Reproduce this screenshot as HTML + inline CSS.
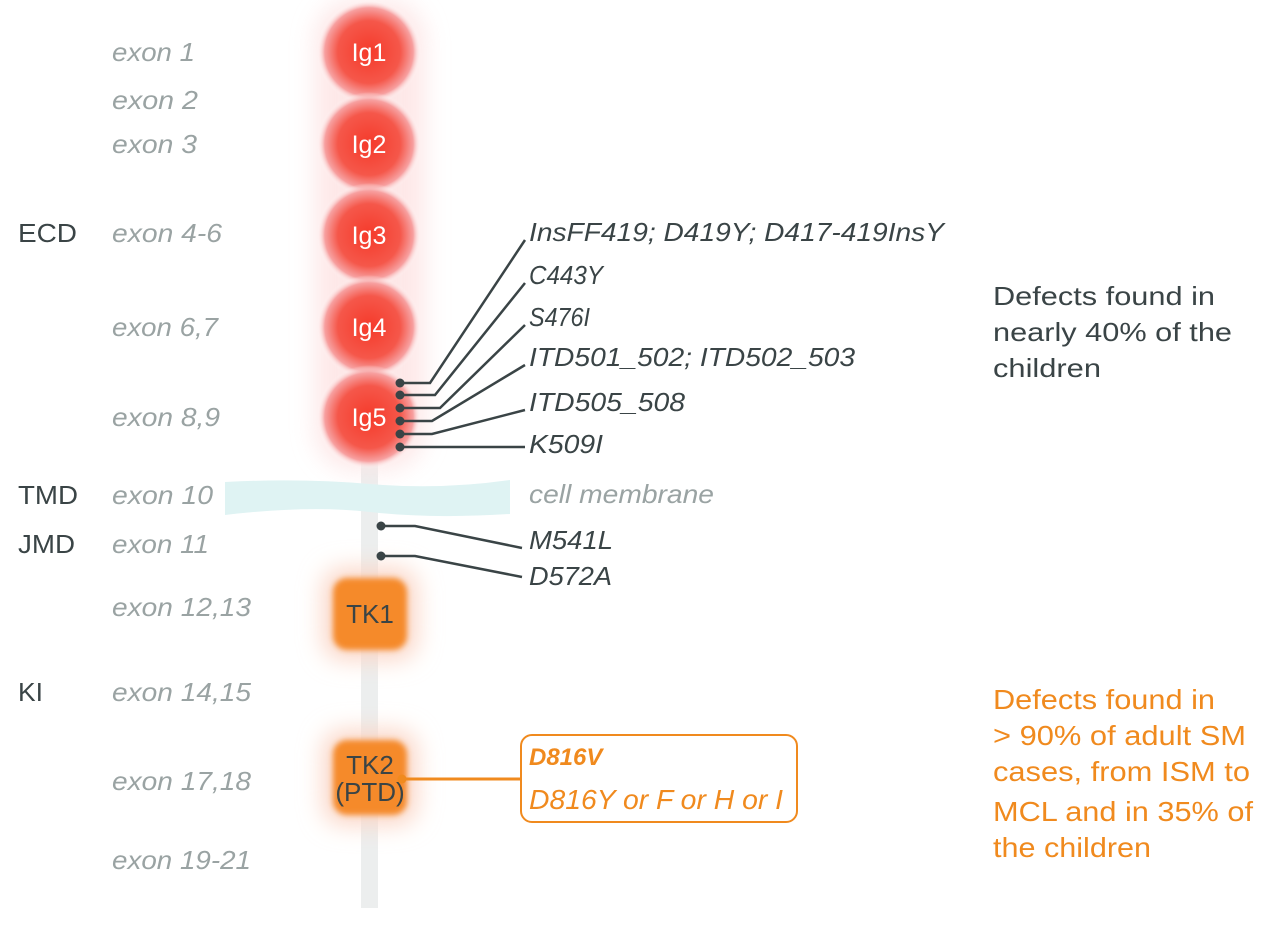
<!DOCTYPE html>
<html><head><meta charset="utf-8"><style>
body{margin:0;background:#fff}
svg{display:block;font-family:"Liberation Sans",sans-serif}
.ex{fill:#9aa3a3;font-style:italic;font-size:26px}
.lb{fill:#3a4446;font-size:26px}
.m{fill:#3a4446;font-style:italic;font-size:26px}
.o{fill:#f08a1e;font-size:28px}
</style></head><body>
<svg width="1280" height="938" viewBox="0 0 1280 938">
<defs>
<radialGradient id="rg" cx="50%" cy="50%" r="50%">
<stop offset="0" stop-color="#f53a2a"/><stop offset="0.6" stop-color="#f5574a"/><stop offset="0.85" stop-color="#f7a0a0"/><stop offset="1" stop-color="#fff" stop-opacity="0"/>
</radialGradient>
<filter id="bl" x="-50%" y="-50%" width="200%" height="200%"><feGaussianBlur stdDeviation="12"/></filter>
<filter id="b2"><feGaussianBlur stdDeviation="3"/></filter>
</defs>
<rect x="361" y="440" width="17" height="468" fill="#eceeee"/>
<rect x="315" y="0" width="110" height="470" rx="40" fill="#fde2e2" filter="url(#bl)" opacity="0.8"/>
<g>
<circle cx="369" cy="52" r="52" fill="url(#rg)"/>
<circle cx="369" cy="144" r="52" fill="url(#rg)"/>
<circle cx="369" cy="235" r="52" fill="url(#rg)"/>
<circle cx="369" cy="327" r="52" fill="url(#rg)"/>
<circle cx="369" cy="417" r="52" fill="url(#rg)"/>
</g>
<g fill="#fff" font-size="25" text-anchor="middle">
<text x="369" y="61">Ig1</text><text x="369" y="153">Ig2</text><text x="369" y="244">Ig3</text><text x="369" y="336">Ig4</text><text x="369" y="426">Ig5</text>
</g>
<path d="M225 482 Q300 478 370 484 T510 480 L510 514 Q430 519 370 512 T225 515 Z" fill="#dff3f3"/>
<rect x="323" y="568" width="94" height="92" rx="20" fill="#fbd6c6" filter="url(#bl)"/>
<rect x="333" y="578" width="74" height="72" rx="14" fill="#f58a2a" filter="url(#b2)"/>
<rect x="323" y="730" width="94" height="95" rx="20" fill="#fbd6c6" filter="url(#bl)"/>
<rect x="333" y="740" width="74" height="75" rx="14" fill="#f58a2a" filter="url(#b2)"/>
<text x="370" y="623" text-anchor="middle" class="lb" font-size="25">TK1</text>
<text x="370" y="774" text-anchor="middle" class="lb" font-size="25">TK2</text>
<text x="370" y="801" text-anchor="middle" class="lb" font-size="19">(PTD)</text>
<g stroke="#3a4446" stroke-width="2.5" fill="none">
<path d="M400 383H430L525 240"/><path d="M400 395H435L525 283"/><path d="M400 408H440L525 325"/>
<path d="M400 421H432L525 365"/><path d="M400 434H432L525 410"/><path d="M400 447H525"/>
<path d="M381 526H415L522 548"/><path d="M381 556H415L522 577"/>
</g>
<g fill="#3a4446"><circle cx="400" cy="383" r="4.5"/><circle cx="400" cy="395" r="4.5"/><circle cx="400" cy="408" r="4.5"/><circle cx="400" cy="421" r="4.5"/><circle cx="400" cy="434" r="4.5"/><circle cx="400" cy="447" r="4.5"/><circle cx="381" cy="526" r="4.5"/><circle cx="381" cy="556" r="4.5"/></g>
<path d="M402 779H521" stroke="#f08a1e" stroke-width="3"/><circle cx="402" cy="779" r="4.5" fill="#f08a1e"/>
<rect x="521" y="735" width="276" height="87" rx="11" fill="#fff" stroke="#f08a1e" stroke-width="2"/>
<text x="529" y="765" fill="#f08a1e" font-weight="bold" font-style="italic" font-size="24">D816V</text>
<text x="529" y="809" class="o" font-style="italic" font-size="26" textLength="254" lengthAdjust="spacingAndGlyphs">D816Y or F or H or I</text>
<text x="112" y="61" class="ex" textLength="83" lengthAdjust="spacingAndGlyphs">exon 1</text>
<text x="112" y="109" class="ex" textLength="86" lengthAdjust="spacingAndGlyphs">exon 2</text>
<text x="112" y="153" class="ex" textLength="85" lengthAdjust="spacingAndGlyphs">exon 3</text>
<text x="112" y="242" class="ex" textLength="110" lengthAdjust="spacingAndGlyphs">exon 4-6</text>
<text x="112" y="336" class="ex" textLength="106" lengthAdjust="spacingAndGlyphs">exon 6,7</text>
<text x="112" y="426" class="ex" textLength="108" lengthAdjust="spacingAndGlyphs">exon 8,9</text>
<text x="112" y="504" class="ex" textLength="101" lengthAdjust="spacingAndGlyphs">exon 10</text>
<text x="112" y="553" class="ex" textLength="97" lengthAdjust="spacingAndGlyphs">exon 11</text>
<text x="112" y="616" class="ex" textLength="139" lengthAdjust="spacingAndGlyphs">exon 12,13</text>
<text x="112" y="701" class="ex" textLength="139" lengthAdjust="spacingAndGlyphs">exon 14,15</text>
<text x="112" y="790" class="ex" textLength="139" lengthAdjust="spacingAndGlyphs">exon 17,18</text>
<text x="112" y="869" class="ex" textLength="139" lengthAdjust="spacingAndGlyphs">exon 19-21</text>
<text x="529" y="503" class="ex" textLength="185" lengthAdjust="spacingAndGlyphs">cell membrane</text>
<text x="18" y="242" class="lb" textLength="59" lengthAdjust="spacingAndGlyphs">ECD</text>
<text x="18" y="504" class="lb" textLength="60" lengthAdjust="spacingAndGlyphs">TMD</text>
<text x="18" y="553" class="lb" textLength="57" lengthAdjust="spacingAndGlyphs">JMD</text>
<text x="18" y="701" class="lb" textLength="25" lengthAdjust="spacingAndGlyphs">KI</text>
<text x="529" y="241" class="m" textLength="415" lengthAdjust="spacingAndGlyphs">InsFF419; D419Y; D417-419InsY</text>
<text x="529" y="284" class="m" textLength="74" lengthAdjust="spacingAndGlyphs">C443Y</text>
<text x="529" y="326" class="m" textLength="61" lengthAdjust="spacingAndGlyphs">S476I</text>
<text x="529" y="366" class="m" textLength="326" lengthAdjust="spacingAndGlyphs">ITD501_502; ITD502_503</text>
<text x="529" y="411" class="m" textLength="156" lengthAdjust="spacingAndGlyphs">ITD505_508</text>
<text x="529" y="453" class="m" textLength="74" lengthAdjust="spacingAndGlyphs">K509I</text>
<text x="529" y="549" class="m" textLength="84" lengthAdjust="spacingAndGlyphs">M541L</text>
<text x="529" y="585" class="m" textLength="83" lengthAdjust="spacingAndGlyphs">D572A</text>
<text x="993" y="305" class="lb" font-size="28" textLength="222" lengthAdjust="spacingAndGlyphs">Defects found in</text>
<text x="993" y="341" class="lb" font-size="28" textLength="239" lengthAdjust="spacingAndGlyphs">nearly 40% of the</text>
<text x="993" y="377" class="lb" font-size="28" textLength="108" lengthAdjust="spacingAndGlyphs">children</text>
<text x="993" y="709" class="o" textLength="222" lengthAdjust="spacingAndGlyphs">Defects found in</text>
<text x="993" y="745" class="o" textLength="253" lengthAdjust="spacingAndGlyphs">&gt; 90% of adult SM</text>
<text x="993" y="781" class="o" textLength="257" lengthAdjust="spacingAndGlyphs">cases, from ISM to</text>
<text x="993" y="821" class="o" textLength="260" lengthAdjust="spacingAndGlyphs">MCL and in 35% of</text>
<text x="993" y="857" class="o" textLength="158" lengthAdjust="spacingAndGlyphs">the children</text>
</svg>
</body></html>
